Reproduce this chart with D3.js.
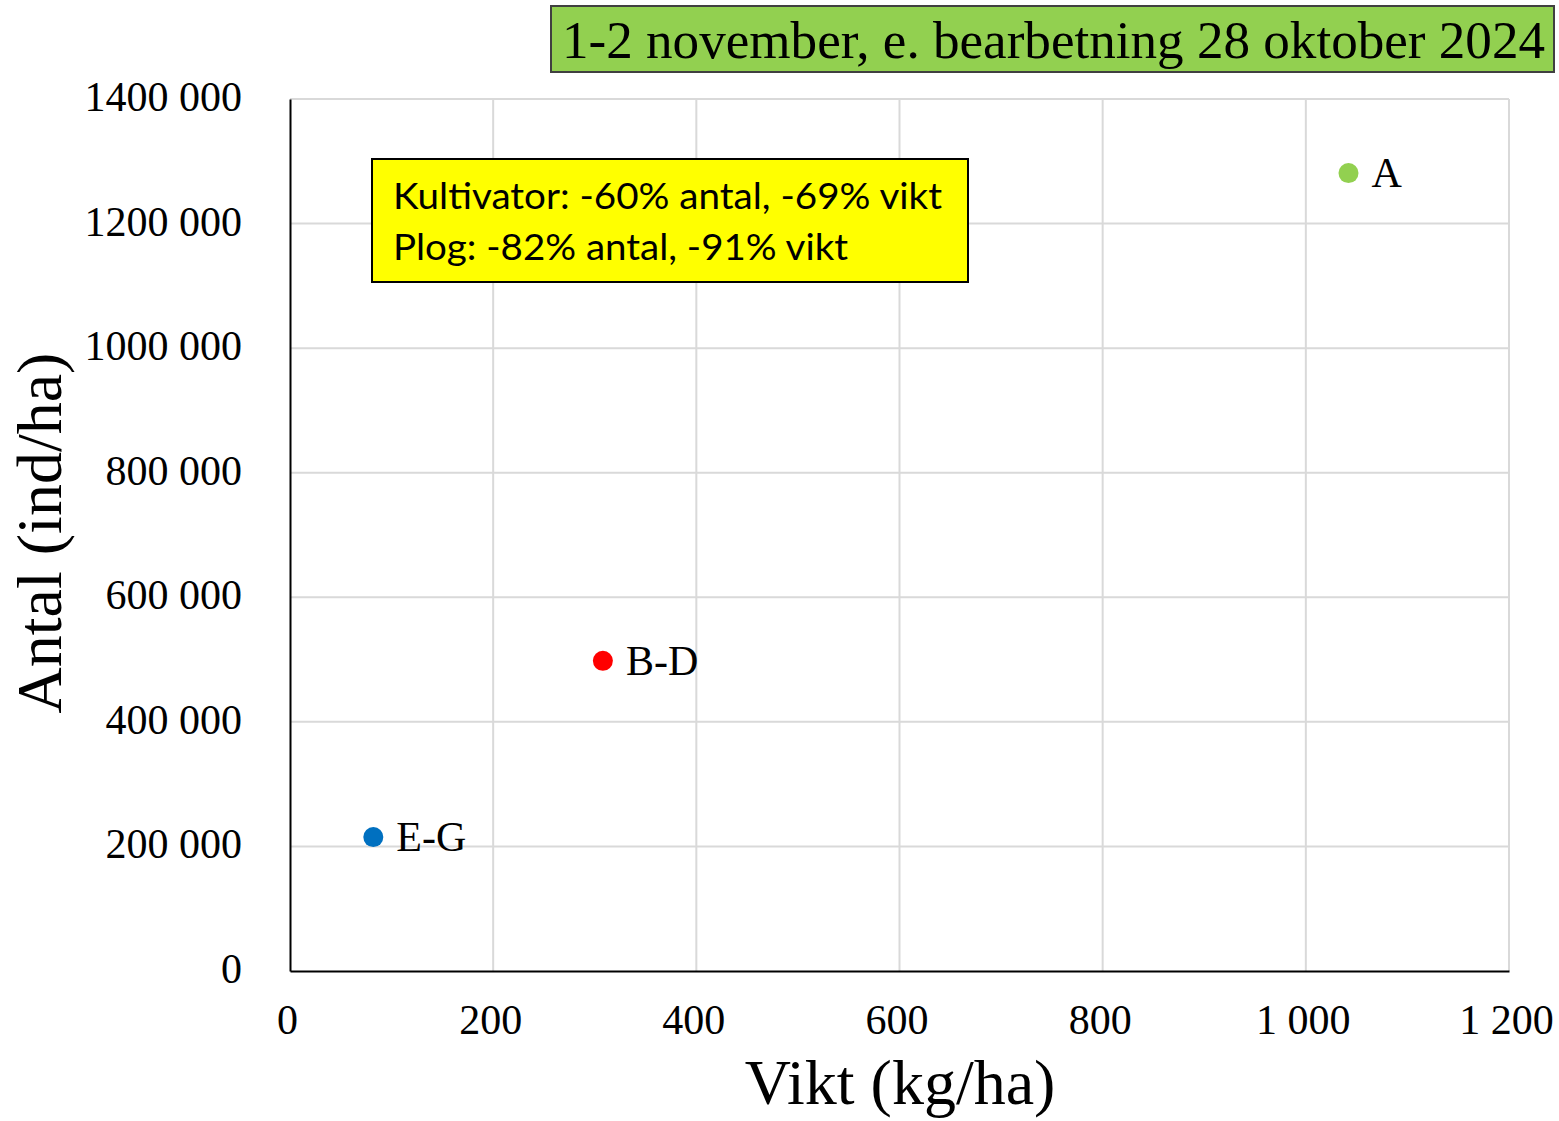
<!DOCTYPE html>
<html><head><meta charset="utf-8">
<script src="https://cdn.jsdelivr.net/npm/d3@7"></script>
<style>body{margin:0;background:#fff}</style>
</head><body>
<svg id="c" width="1559" height="1121"></svg>
<script>
const groups = ["A", "B-D", "E-G"];
const weights = [1042, 308, 82];          // Vikt (kg/ha)
const counts = [1281000, 498000, 215000]; // Antal (ind/ha)
const colors = ["#92D050", "#FF0000", "#0070C0"];
const xTicks = [0, 200, 400, 600, 800, 1000, 1200];
const xTickLabels = ["0", "200", "400", "600", "800", "1 000", "1 200"];
const yTicks = [0, 200000, 400000, 600000, 800000, 1000000, 1200000, 1400000];
const yTickLabels = ["0", "200 000", "400 000", "600 000", "800 000", "1000 000", "1200 000", "1400 000"];
const title = "1-2 november, e. bearbetning 28 oktober 2024";
const noteLines = ["Kultivator: -60% antal, -69% vikt", "Plog: -82% antal, -91% vikt"];

const svg = d3.select("#c");
const L = 290, R = 1509, T = 99, B = 971;
const x = d3.scaleLinear().domain([0, 1200]).range([L, R]);
const y = d3.scaleLinear().domain([0, 1400000]).range([B, T]);
const serif = "'Liberation Serif','Times New Roman',serif";

// gridlines
svg.append("g").selectAll("line").data(xTicks.slice(1)).join("line")
  .attr("x1", d => x(d)).attr("x2", d => x(d)).attr("y1", T).attr("y2", B)
  .attr("stroke", "#d9d9d9").attr("stroke-width", 2);
svg.append("g").selectAll("line").data(yTicks.slice(1)).join("line")
  .attr("x1", L).attr("x2", R).attr("y1", d => y(d)).attr("y2", d => y(d))
  .attr("stroke", "#d9d9d9").attr("stroke-width", 2);

// axes
const xAxis = d3.axisBottom(x).tickValues(xTicks).tickSize(0).tickPadding(33)
  .tickFormat((d, i) => xTickLabels[i]);
const gx = svg.append("g").attr("transform", `translate(0,${B})`).call(xAxis);
gx.select(".domain").attr("stroke", "#000").attr("stroke-width", 2);
gx.selectAll("text").attr("font-family", serif).attr("font-size", 42).attr("fill", "#000")
  .attr("transform", "translate(-3,0)");

const yAxis = d3.axisLeft(y).tickValues(yTicks).tickSize(0).tickPadding(48)
  .tickFormat((d, i) => yTickLabels[i]);
const gy = svg.append("g").attr("transform", `translate(${L},0)`).call(yAxis);
gy.select(".domain").attr("stroke", "#000").attr("stroke-width", 2);
gy.selectAll("text").attr("font-family", serif).attr("font-size", 42).attr("fill", "#000")
  .attr("transform", "translate(0,-2)");

// axis titles
svg.append("text").attr("x", 900).attr("y", 1104).attr("text-anchor", "middle")
  .attr("font-family", serif).attr("font-size", 64).text("Vikt (kg/ha)");
svg.append("text").attr("transform", "translate(61,533) rotate(-90)").attr("text-anchor", "middle")
  .attr("font-family", serif).attr("font-size", 64).text("Antal (ind/ha)");

// points
const data = groups.map((g, i) => ({g, w: weights[i], c: counts[i], col: colors[i]}));
svg.append("g").selectAll("circle").data(data).join("circle")
  .attr("cx", d => x(d.w)).attr("cy", d => y(d.c)).attr("r", 10).attr("fill", d => d.col);
svg.append("g").selectAll("text").data(data).join("text")
  .attr("x", d => x(d.w) + 23).attr("y", d => y(d.c) + 14)
  .attr("font-family", serif).attr("font-size", 42).text(d => d.g);

// title box
svg.append("rect").attr("x", 551).attr("y", 6).attr("width", 1003).attr("height", 66)
  .attr("fill", "#92D050").attr("stroke", "#404040").attr("stroke-width", 2);
svg.append("text").attr("x", 562).attr("y", 58)
  .attr("textLength", 983).attr("lengthAdjust", "spacingAndGlyphs")
  .attr("font-family", serif).attr("font-size", 52).text(title);

// note box
svg.append("rect").attr("x", 372).attr("y", 159).attr("width", 596).attr("height", 123)
  .attr("fill", "#FFFF00").attr("stroke", "#000").attr("stroke-width", 2);
const noteLens = [549, 455];
svg.append("g").selectAll("text").data(noteLines).join("text")
  .attr("x", 393).attr("y", (d, i) => 209 + i * 51)
  .attr("textLength", (d, i) => noteLens[i]).attr("lengthAdjust", "spacingAndGlyphs")
  .attr("font-family", "Lato, 'Open Sans', sans-serif").attr("font-size", 37).text(d => d);
</script>
</body></html>
